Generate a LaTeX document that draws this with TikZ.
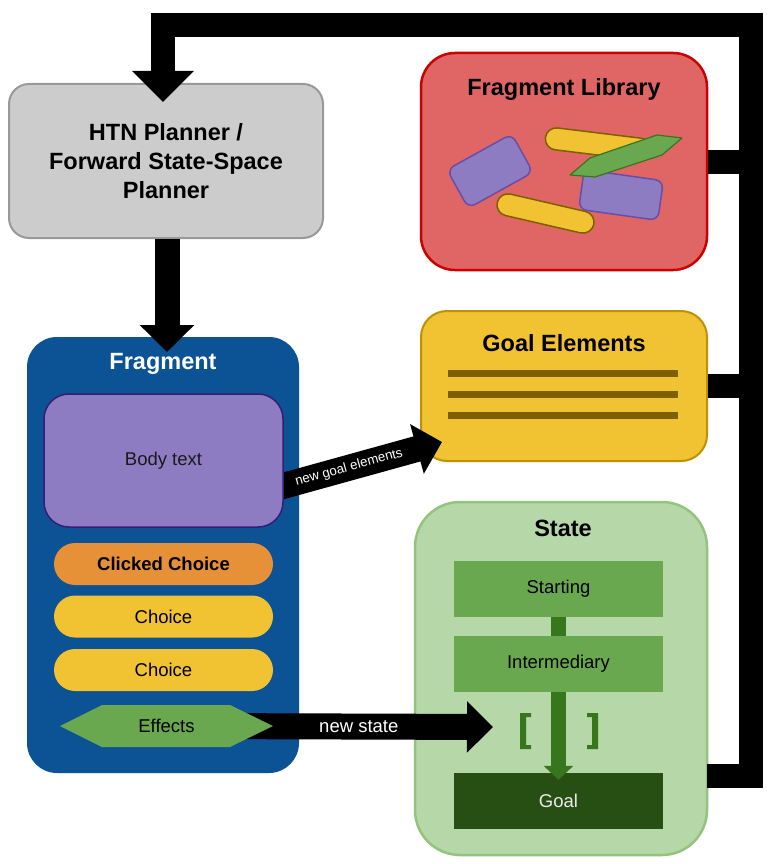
\documentclass[tikz,border=0pt]{standalone}
\usepackage{fontspec}
\setmainfont{Liberation Sans}
\usetikzlibrary{arrows.meta}
\definecolor{htnfill}{HTML}{CCCCCC}
\definecolor{htnline}{HTML}{999999}
\definecolor{fragblue}{HTML}{0B5394}
\definecolor{purplefill}{HTML}{8E7CC3}
\definecolor{purpleline}{HTML}{351C75}
\definecolor{purpleline2}{HTML}{674EA7}
\definecolor{orangefill}{HTML}{E69138}
\definecolor{yellowfill}{HTML}{F1C232}
\definecolor{yellowline}{HTML}{BF9000}
\definecolor{darkyellow}{HTML}{7F6000}
\definecolor{greenfill}{HTML}{6AA84F}
\definecolor{greenline}{HTML}{38761D}
\definecolor{darkgreen}{HTML}{274E13}
\definecolor{redfill}{HTML}{E06666}
\definecolor{redline}{HTML}{CC0000}
\definecolor{statefill}{HTML}{B6D7A8}
\definecolor{stateline}{HTML}{93C47D}
\pgfdeclarelayer{top}
\pgfsetlayers{main,top}
\begin{document}
\begin{tikzpicture}[x=1pt,y=-1pt,
  titlefont/.style={font=\fontsize{23.5}{29}\selectfont\bfseries, align=center, inner sep=0pt},
  txt/.style={font=\fontsize{18.5}{22}\selectfont, inner sep=0pt},
  box/.style={inner sep=0pt, rounded corners=#1},
  pill/.style={inner sep=0pt, rounded corners=21pt, minimum width=219pt, minimum height=42pt,
    font=\fontsize{18.5}{22}\selectfont},
  statebox/.style={inner sep=0pt, minimum width=209pt, minimum height=56pt,
    font=\fontsize{18.5}{22}\selectfont},
  bigarrow/.style={line width=24pt, line join=miter},
  flowarrow/.style={line width=26pt, -{Triangle[width=50pt,length=26pt]}},
  libpurple/.style={fill=purplefill, draw=purpleline2, line width=1.5pt, rounded corners=8pt, inner sep=0pt},
  libyellow/.style={fill=yellowfill, draw=darkyellow, line width=1.5pt, rounded corners=11pt, inner sep=0pt, minimum height=22pt},
]
\useasboundingbox (0,0) rectangle (774,864);

% ---------- Planner ----------
\node[box=20pt, fill=htnfill, draw=htnline, line width=2pt, minimum width=314pt, minimum height=154pt,
  titlefont] (htn) at (166,161) {HTN Planner /\\Forward State-Space\\Planner};

% ---------- Fragment ----------
\node[box=30pt, fill=fragblue, minimum width=272pt, minimum height=436pt] (frag) at (163,555) {};
\node[titlefont, text=white] (fragtitle) at (163,364) {Fragment};
\begin{pgfonlayer}{top}
\node[box=25pt, fill=purplefill, draw=purpleline, line width=1.5pt, minimum width=239pt, minimum height=133pt,
  txt, text=black!90] (body) at (163.5,460.5) {Body text};
\fill[greenfill] (60,726) -- (102,705) -- (230,705) -- (273,726) -- (230,747) -- (102,747) -- cycle;
\node[txt] (eff) at (166.5,726) {Effects};
\end{pgfonlayer}
\node[pill, fill=orangefill, font=\fontsize{18.5}{22}\selectfont\bfseries] (clicked) at (163.5,564) {Clicked Choice};
\node[pill, fill=yellowfill] (choice1) at (163.5,616.5) {Choice};
\node[pill, fill=yellowfill] (choice2) at (163.5,670) {Choice};

% ---------- Fragment Library ----------
\node[box=34pt, fill=redfill, draw=redline, line width=2.5pt, minimum width=286pt, minimum height=217pt] (lib) at (564,161.5) {};
\node[titlefont] (libtitle) at (564,89) {Fragment Library};
\node[libpurple, minimum width=74pt, minimum height=44pt, rotate=29] (lp1) at (490,171) {};
\node[libyellow, minimum width=99pt, rotate=-13] (ly1) at (545.5,213.5) {};
\node[libyellow, minimum width=106pt, rotate=-7] (ly2) at (598,144) {};
\node[libpurple, minimum width=80pt, minimum height=40pt, rotate=-8] (lp2) at (621,195) {};
\filldraw[fill=greenfill, draw=greenline, line width=1.2pt, line join=round]
  (570,175) -- (590,158) -- (657,135) -- (682,138) -- (662,155) -- (595,177) -- cycle;

% ---------- Goal Elements ----------
\node[box=26pt, fill=yellowfill, draw=yellowline, line width=2pt, minimum width=286pt, minimum height=150pt] (goalel) at (564,386) {};
\node[titlefont] (goaltitle) at (564,343) {Goal Elements};
\foreach \yy in {373,394,415}
  \draw[darkyellow, line width=7pt] (448,\yy) -- (678,\yy);

% ---------- State ----------
\node[box=45pt, fill=statefill, draw=stateline, line width=2.5pt, minimum width=292pt, minimum height=353pt] (state) at (561,678.5) {};
\node[titlefont] (statetitle) at (563,528) {State};
\node[statebox, fill=greenfill] (start) at (558.5,589) {Starting};
\node[statebox, fill=greenfill] (inter) at (558.5,664) {Intermediary};
\node[statebox, fill=darkgreen, text=white!92!black] (goal) at (558.5,801) {Goal};
\draw[greenline, line width=15pt] (start.south) -- (inter.north);
\draw[greenline, line width=15pt, -{Triangle[width=29pt,length=14pt]}] (inter.south) -- ([yshift=-7pt]goal.north);
\fill[greenline] (520,713) -- (531,713) -- (531,717) -- (526,717) -- (526,745) -- (531,745) -- (531,749) -- (520,749) -- cycle;
\fill[greenline] (598,713) -- (587,713) -- (587,717) -- (592,717) -- (592,745) -- (587,745) -- (587,749) -- (598,749) -- cycle;

% ---------- Connectors ----------
\coordinate (busx) at (751,25);
\coordinate (statestub) at (707,775.5);
\coordinate (htntip) at (163,102);
\draw[bigarrow, -{Triangle[width=60pt,length=31pt]}] (statestub) -| (busx) -| (htntip);
\draw[bigarrow] (lib.east) -- (lib.east -| busx);
\draw[bigarrow] (goalel.east) -- (goalel.east -| busx);
\coordinate (fragtip) at (167,352);
\draw[line width=25pt, -{Triangle[width=53pt,length=27pt]}] (htn.south -| fragtip) -- (fragtip);

\coordinate (ngstart) at (265,491);
\coordinate (ngtip) at (442,442);
\draw[flowarrow] (ngstart) -- node[pos=0.475, sloped, text=white, font=\fontsize{13.3}{15}\selectfont] (nglabel) {new goal elements} (ngtip);
\coordinate (nstip) at (493,727);
\draw[flowarrow] (eff.east) -- node[pos=0.55, text=white, font=\fontsize{18.5}{22}\selectfont] (nslabel) {new state} (nstip);
\end{tikzpicture}
\end{document}
